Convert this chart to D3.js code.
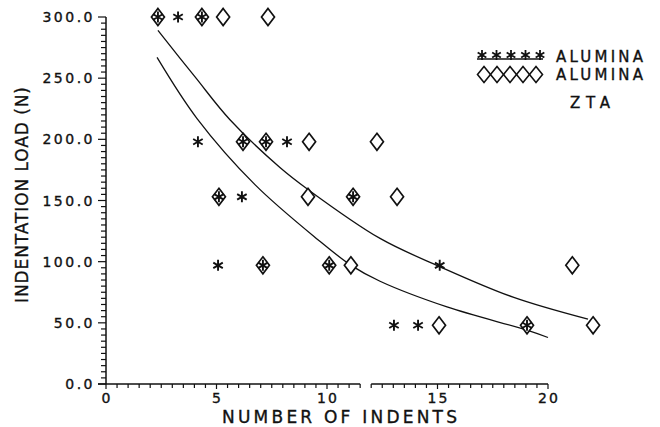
<!DOCTYPE html>
<html>
<head>
<meta charset="utf-8">
<script src="https://cdn.jsdelivr.net/npm/d3@7"></script>
<style>
  body { margin: 0; background: #fff; }
  svg { display: block; font-family: "DejaVu Sans", sans-serif; }
  text { stroke: #111; stroke-width: 0.35px; }
</style>
</head>
<body>
<svg width="660" height="427"></svg>
<script>
// alumina (stars) -- number of indents vs load
var aluminaX = [2.35, 3.26, 4.34, 4.16, 6.2, 7.24, 8.19, 5.11, 6.15, 11.18, 5.07, 7.1, 10.1, 15.1, 13.03, 14.12, 19.05];
var aluminaY = [300, 300, 300, 198, 198, 198, 198, 153, 153, 153, 97, 97, 97, 97, 48, 48, 48];
// ZTA (diamonds)
var ztaX = [2.35, 4.34, 5.3, 7.33, 6.2, 7.24, 9.19, 12.26, 5.11, 9.14, 11.18, 13.17, 7.1, 10.1, 11.08, 21.1, 15.07, 19.05, 22.04];
var ztaY = [300, 300, 300, 300, 198, 198, 198, 198, 153, 153, 153, 153, 97, 97, 97, 97, 48, 48, 48];

// fitted curves
var aluminaFitX = [2.31, 4.12, 6.74, 9.59, 11.09, 12.4, 15.43, 19.05, 20.0];
var aluminaFitY = [267, 217, 163, 118, 97, 84, 63, 44, 38];
var ztaFitX = [2.35, 4.03, 5.61, 7.87, 9.14, 12.4, 15.1, 18.42, 21.81];
var ztaFitY = [289, 251, 216, 177, 159, 119, 96, 71, 53];

var xTicks = [0, 5, 10, 15, 20];
var yTicks = [0, 50, 100, 150, 200, 250, 300];
var legendLabels = ["ALUMINA", "ALUMINA", "ZTA"];

var svg = d3.select("svg");

var x = d3.scaleLinear().domain([0, 20]).range([106, 548]);
var y = d3.scaleLinear().domain([0, 300]).range([384, 17]);

var ink = "#111";

function zip(xs, ys) {
	return xs.map(function(v, i) { return [v, ys[i]]; });
}

// star and diamond paths
function starPath(r) {
	var c = r * Math.cos(Math.PI / 6), s = r * Math.sin(Math.PI / 6);
	return "M0," + (-r) + "L0," + r +
		"M" + (-c) + "," + (-s) + "L" + c + "," + s +
		"M" + (-c) + "," + s + "L" + c + "," + (-s);
}
function diamondPath(w, h) {
	return "M0," + (-h) + "L" + w + ",0L0," + h + "L" + (-w) + ",0Z";
}

// y axis
var gy = svg.append("g");
gy.append("line")
	.attr("x1", x(0)).attr("x2", x(0))
	.attr("y1", y(0)).attr("y2", y(300))
	.attr("stroke", ink).attr("stroke-width", 1.5);
gy.selectAll("line.tick")
	.data(d3.range(0, 301, 5))
	.enter().append("line")
	.attr("class", "tick")
	.attr("x1", function(d) { return x(0) - (d % 50 === 0 ? 8 : 5); })
	.attr("x2", x(0))
	.attr("y1", function(d) { return y(d); })
	.attr("y2", function(d) { return y(d); })
	.attr("stroke", ink).attr("stroke-width", 1.2);
gy.selectAll("text")
	.data(yTicks)
	.enter().append("text")
	.attr("x", 95)
	.attr("y", function(d) { return y(d) + 5; })
	.attr("text-anchor", "end")
	.attr("font-size", 14)
	.attr("letter-spacing", 2.5)
	.attr("fill", ink)
	.text(function(d) { return d.toFixed(1); });

// x axis, drawn in two pieces like the original
var gx = svg.append("g");
[[0, 11.5], [12, 20]].forEach(function(seg) {
	gx.append("line")
		.attr("x1", x(seg[0]) - (seg[0] === 0 ? 8 : 0)).attr("x2", x(seg[1]))
		.attr("y1", y(0)).attr("y2", y(0))
		.attr("stroke", ink).attr("stroke-width", 1.5);
});
gx.selectAll("line.tick")
	.data(d3.range(0, 20.01, 0.5))
	.enter().append("line")
	.attr("class", "tick")
	.attr("x1", function(d) { return x(d); })
	.attr("x2", function(d) { return x(d); })
	.attr("y1", y(0))
	.attr("y2", function(d) { return y(0) + (d % 5 === 0 ? 5 : 4); })
	.attr("stroke", ink).attr("stroke-width", 1.2);
gx.selectAll("text")
	.data(xTicks)
	.enter().append("text")
	.attr("x", function(d) { return x(d) + 1; })
	.attr("y", 403)
	.attr("text-anchor", "middle")
	.attr("font-size", 14)
	.attr("letter-spacing", 2)
	.attr("fill", ink)
	.text(function(d) { return d; });

// axis titles
svg.append("text")
	.attr("x", 222).attr("y", 423)
	.attr("font-size", 17)
	.attr("textLength", 235)
	.attr("lengthAdjust", "spacing")
	.attr("fill", ink)
	.text("NUMBER OF INDENTS");
svg.append("text")
	.attr("transform", "translate(28,303) rotate(-90)")
	.attr("font-size", 17)
	.attr("textLength", 216)
	.attr("lengthAdjust", "spacing")
	.attr("fill", ink)
	.text("INDENTATION LOAD (N)");

// fit curves
var line = d3.line()
	.x(function(d) { return x(d[0]); })
	.y(function(d) { return y(d[1]); })
	.curve(d3.curveCatmullRom.alpha(0.5));

[zip(aluminaFitX, aluminaFitY), zip(ztaFitX, ztaFitY)].forEach(function(data) {
	svg.append("path")
		.datum(data)
		.attr("fill", "none")
		.attr("stroke", ink)
		.attr("stroke-width", 1.3)
		.attr("d", line);
});

// markers
svg.selectAll("path.zta")
	.data(zip(ztaX, ztaY))
	.enter().append("path")
	.attr("class", "zta")
	.attr("transform", function(d) { return "translate(" + x(d[0]) + "," + y(d[1]) + ")"; })
	.attr("d", diamondPath(6.5, 8.5))
	.attr("fill", "#fff")
	.attr("stroke", ink)
	.attr("stroke-width", 1.7);
svg.selectAll("path.alumina")
	.data(zip(aluminaX, aluminaY))
	.enter().append("path")
	.attr("class", "alumina")
	.attr("transform", function(d) { return "translate(" + x(d[0]) + "," + y(d[1]) + ")"; })
	.attr("d", starPath(5.5))
	.attr("fill", "none")
	.attr("stroke", ink)
	.attr("stroke-width", 1.9);

// legend
var lg = svg.append("g");
lg.append("line")
	.attr("x1", 477).attr("x2", 543).attr("y1", 59).attr("y2", 59)
	.attr("stroke", ink).attr("stroke-width", 1.3);
lg.selectAll("path.ls")
	.data(d3.range(5))
	.enter().append("path")
	.attr("class", "ls")
	.attr("transform", function(i) { return "translate(" + (482 + i * 14.5) + ",55)"; })
	.attr("d", starPath(5))
	.attr("stroke", ink).attr("stroke-width", 1.8);
lg.selectAll("path.ld")
	.data(d3.range(5))
	.enter().append("path")
	.attr("class", "ld")
	.attr("transform", function(i) { return "translate(" + (484 + i * 13) + ",74.5)"; })
	.attr("d", diamondPath(6.5, 8))
	.attr("fill", "none")
	.attr("stroke", ink).attr("stroke-width", 1.6);
lg.append("text")
	.attr("x", 556).attr("y", 62)
	.attr("font-size", 15).attr("textLength", 87).attr("lengthAdjust", "spacing")
	.attr("fill", ink).text(legendLabels[0]);
lg.append("text")
	.attr("x", 556).attr("y", 80)
	.attr("font-size", 15).attr("textLength", 87).attr("lengthAdjust", "spacing")
	.attr("fill", ink).text(legendLabels[1]);
lg.append("text")
	.attr("x", 570).attr("y", 108)
	.attr("font-size", 15).attr("textLength", 40).attr("lengthAdjust", "spacing")
	.attr("fill", ink).text(legendLabels[2]);
</script>
</body>
</html>
